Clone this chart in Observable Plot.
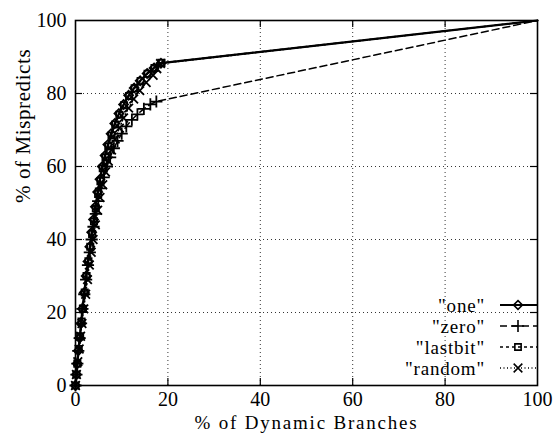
<!DOCTYPE html>
<html><head><meta charset="utf-8">
<script src="https://cdn.jsdelivr.net/npm/d3@7"></script>
<script src="https://cdn.jsdelivr.net/npm/@observablehq/plot@0.6"></script>
<style>
body{margin:0;background:#fff}
#chart svg{font-family:"Liberation Serif","Times New Roman",serif;background:#fff}
</style>
</head><body><div id="chart"></div>
<script>
// ---- data ----
const seriesNames = ["one", "zero", "lastbit", "random"];
const legendLabels = ['"one"', '"zero"', '"lastbit"', '"random"'];

const oneX = [0, 0.2, 0.4, 0.6, 0.9, 1.2, 1.5, 1.9, 2.3, 2.7, 3.1, 3.5, 3.9, 4.3, 4.8, 5.3, 5.8, 6.4, 7.0, 7.7, 8.5, 9.4, 10.4, 11.5, 12.7, 14.0, 15.5, 17.0, 18.5, 100];
const oneY = [0, 3, 6, 9.5, 13, 17, 21, 25.5, 30, 34, 38, 42, 45.5, 49, 53, 56.5, 60, 63, 66, 69, 71.8, 74.5, 77, 79.5, 81.5, 83.5, 85.5, 87, 88.3, 100];

const zeroX = [0, 0.2, 0.4, 0.6, 0.9, 1.2, 1.5, 1.9, 2.3, 2.7, 3.1, 3.5, 3.9, 4.4, 4.9, 5.5, 6.1, 6.8, 7.5, 8.3, 9.1, 10.0, 11.0, 12.2, 13.4, 14.8, 16.2, 17.5, 100];
const zeroY = [0, 3, 6, 9.5, 13, 17, 21, 25, 29, 33, 36.5, 40, 43.5, 47, 50.5, 54, 57, 60, 62.5, 65, 67, 69, 71, 72.8, 74.3, 75.8, 77, 77.8, 100];

const lastbitX = [0, 0.2, 0.4, 0.7, 1.0, 1.3, 1.6, 2.0, 2.4, 2.8, 3.2, 3.6, 4.0, 4.4, 4.9, 5.4, 5.9, 6.5, 7.1, 7.8, 8.6, 9.5, 10.5, 11.6, 12.8, 14.1, 15.6, 17.1, 18.6, 100];
const lastbitY = [0, 3, 6, 10, 13.5, 17.5, 21, 25.5, 30, 34, 38, 41.5, 45, 48.5, 52.5, 56, 59.5, 62.5, 65.5, 68.5, 71.5, 74.2, 76.8, 79.3, 81.4, 83.4, 85.4, 87, 88.4, 100];

const randomX = [0, 0.2, 0.5, 0.8, 1.1, 1.4, 1.8, 2.2, 2.6, 3.0, 3.4, 3.8, 4.3, 4.8, 5.3, 5.9, 6.5, 7.1, 7.8, 8.6, 9.5, 10.4, 11.5, 12.6, 13.9, 15.3, 16.8, 17.6, 18.4, 100];
const randomY = [0, 3, 6.5, 10, 13.5, 17, 21, 25, 29, 33, 36.5, 40, 44, 48, 51.5, 55, 58.5, 61.5, 64.5, 67.5, 70.5, 73.3, 76, 78.5, 80.8, 83, 85, 86.8, 88.2, 100];

const tickValues = [0, 20, 40, 60, 80, 100];
const gridValues = [20, 40, 60, 80];
const xTitle = "% of Dynamic Branches";
const yTitle = "% of Mispredicts";

// ---- build table ----
const seriesXY = {one: [oneX, oneY], zero: [zeroX, zeroY], lastbit: [lastbitX, lastbitY], random: [randomX, randomY]};
const rows = seriesNames.flatMap(s => seriesXY[s][0].map((x, i) => ({series: s, x, y: seriesXY[s][1][i]})));

const styles = {
  one:     {dash: null,    width: 2.2, symbol: "diamond2"},
  zero:    {dash: "7,4",   width: 1.5, symbol: "plus"},
  lastbit: {dash: "3,3",   width: 1.4, symbol: "square2"},
  random:  {dash: "1,2.5", width: 1.4, symbol: "times"}
};

const W = 557, H = 435, mL = 75, mR = 20, mT = 20, mB = 50;
const plotW = W - mL - mR, plotH = H - mT - mB;
const tickLen = 7;

const marks = [
  Plot.ruleX(gridValues, {stroke: "black", strokeWidth: 0.8, strokeDasharray: "1,3"}),
  Plot.ruleY(gridValues, {stroke: "black", strokeWidth: 0.8, strokeDasharray: "1,3"}),
  Plot.ruleX(gridValues, {insetTop: plotH - tickLen, stroke: "black", strokeWidth: 1.2}),
  Plot.ruleX(gridValues, {insetBottom: plotH - tickLen, stroke: "black", strokeWidth: 1.2}),
  Plot.ruleY(gridValues, {insetRight: plotW - tickLen, stroke: "black", strokeWidth: 1.2}),
  Plot.ruleY(gridValues, {insetLeft: plotW - tickLen, stroke: "black", strokeWidth: 1.2}),
];
for (const s of seriesNames) {
  const st = styles[s];
  const d = rows.filter(r => r.series === s);
  marks.push(Plot.line(d, {x: "x", y: "y", stroke: "black", strokeWidth: st.width, strokeDasharray: st.dash}));
  marks.push(Plot.dot(d.filter(r => r.x < 100), {x: "x", y: "y", symbol: () => st.symbol, stroke: "black", fill: "none", r: 4, strokeWidth: 1.8}));
}
marks.push(
  Plot.frame({stroke: "black", strokeWidth: 1.6}),
  Plot.text([xTitle], {text: d => d, frameAnchor: "bottom", lineAnchor: "middle", dy: 37, fontSize: 19}),
  Plot.text([yTitle], {text: d => d, frameAnchor: "left", lineAnchor: "middle", dx: -52, rotate: -90, fontSize: 21})
);

const chart = Plot.plot({
  width: W, height: H,
  marginLeft: mL, marginRight: mR, marginTop: mT, marginBottom: mB,
  style: {fontSize: "20px", fontFamily: '"Liberation Serif","Times New Roman",serif', background: "#fff", color: "black"},
  x: {domain: [0, 100], ticks: tickValues, tickSize: 0, tickPadding: 6, label: null},
  y: {domain: [0, 100], ticks: tickValues, tickSize: 0, tickPadding: 9, label: null},
  marks
});
document.getElementById("chart").appendChild(chart);

// letter-spacing for titles
d3.select(chart).selectAll("text").filter(function () { return this.textContent === xTitle; }).attr("letter-spacing", "1.8px");
d3.select(chart).selectAll("text").filter(function () { return this.textContent === yTitle; }).attr("letter-spacing", "0.6px");

// ---- legend (bottom-right, inside the frame) ----
const svg = d3.select(chart);
const lg = svg.append("g").attr("font-size", 19).attr("fill", "black");
const right = W - mR, bottom = H - mB;
seriesNames.forEach((s, i) => {
  const st = styles[s];
  const yy = bottom - 80 + i * 21;
  lg.append("text").attr("x", right - 52).attr("y", yy).attr("dy", "0.35em")
    .attr("text-anchor", "end").attr("letter-spacing", "0.8px").text(legendLabels[i]);
  lg.append("line").attr("x1", right - 37).attr("x2", right).attr("y1", yy).attr("y2", yy)
    .attr("stroke", "black").attr("stroke-width", st.width)
    .attr("stroke-dasharray", st.dash);
  const sym = {diamond2: d3.symbolDiamond2, plus: d3.symbolPlus, square2: d3.symbolSquare2, times: d3.symbolTimes}[st.symbol];
  lg.append("path").attr("transform", `translate(${right - 19},${yy})`)
    .attr("d", d3.symbol(sym, Math.PI * 16)()).attr("fill", "none").attr("stroke", "black").attr("stroke-width", 1.6);
});
</script>
</body></html>
